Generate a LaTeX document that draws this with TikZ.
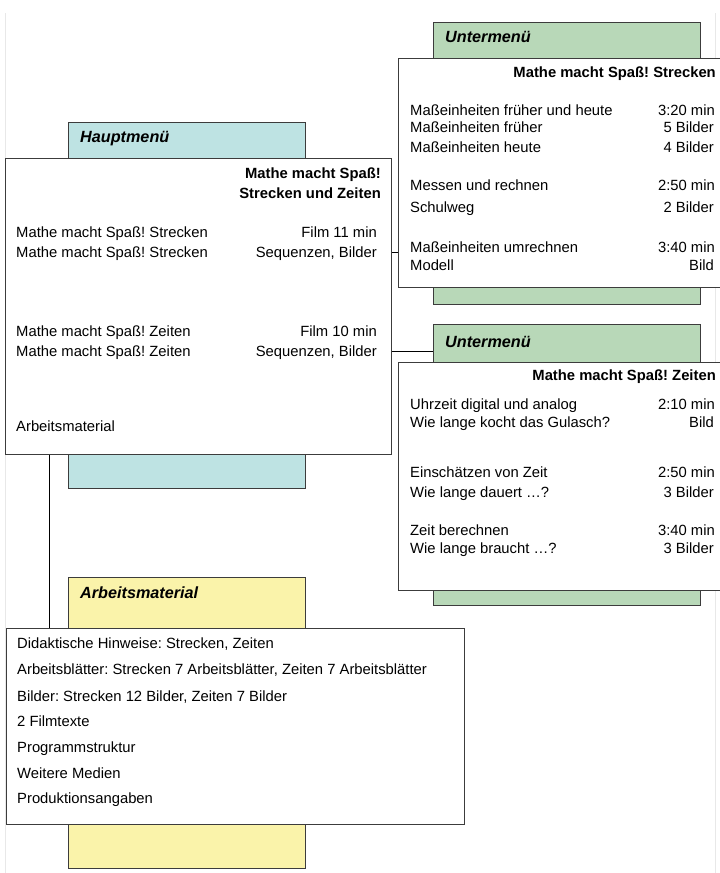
\documentclass[tikz,border=0pt]{standalone}
\usepackage{fontspec}
\setmainfont{Liberation Sans}
\frenchspacing
\definecolor{hmblue}{RGB}{190,227,227}
\definecolor{umgreen}{RGB}{184,216,184}
\definecolor{amyellow}{RGB}{250,243,170}
\definecolor{edge}{RGB}{60,60,60}
\tikzset{
  colbox/.style={draw=edge, line width=1.3pt, inner sep=0pt},
  whitebox/.style={draw=edge, line width=1.1pt, fill=white, inner sep=0pt},
  hdr/.style={anchor=mid west, font=\fontsize{16.2}{18}\selectfont\bfseries\itshape, inner sep=0pt, yshift=-3pt},
  ttl/.style={anchor=mid east, font=\fontsize{14.8}{17}\selectfont\bfseries, inner sep=0pt, yshift=-3pt},
  lt/.style={anchor=mid west, font=\fontsize{14.8}{17}\selectfont, inner sep=0pt, yshift=-3pt},
  rt/.style={anchor=mid east, font=\fontsize{14.8}{17}\selectfont, inner sep=0pt, yshift=-3pt},
  conn/.style={draw=black, line width=1pt},
}
\begin{document}
\begin{tikzpicture}[x=1pt,y=-1pt]
\useasboundingbox (0,0) rectangle (720,873);
\clip (0,0) rectangle (720,873);
\fill[white] (0,0) rectangle (720,873);
% faint page edges
\draw[black!9, line width=1pt] (5.5,13) -- (5.5,873);
\draw[black!9, line width=1pt] (715.5,13) -- (715.5,873);

% coloured back boxes
\node[colbox, fill=hmblue, anchor=north west, minimum width=237pt, minimum height=366pt] (hmc) at (68,122) {};
\node[colbox, fill=umgreen, anchor=north west, minimum width=267pt, minimum height=282pt] (u1c) at (433,22) {};
\node[colbox, fill=umgreen, anchor=north west, minimum width=267pt, minimum height=281pt] (u2c) at (433,324) {};
\node[colbox, fill=amyellow, anchor=north west, minimum width=237pt, minimum height=291pt] (amc) at (68,577) {};

% header labels
\node[hdr] (hmh) at (80,137) {Hauptmenü};
\node[hdr] (u1h) at (445,37) {Untermenü};
\node[hdr] (u2h) at (445,342) {Untermenü};
\node[hdr] (amh) at (80,593) {Arbeitsmaterial};

\coordinate (cA) at (0,252);
\coordinate (cB) at (0,351);
\coordinate (cV) at (49,0);

% white boxes
\node[whitebox, anchor=north west, minimum width=386pt, minimum height=296pt] (hmw) at (5,158) {};
\node[whitebox, anchor=north west, minimum width=326pt, minimum height=229pt] (u1w) at (398,58) {};
\node[whitebox, anchor=north west, minimum width=326pt, minimum height=228pt] (u2w) at (398,362) {};
\node[whitebox, anchor=north west, minimum width=458pt, minimum height=196pt] (amw) at (6,628) {};

% connectors
\draw[conn] (hmw.east |- cA) -- (u1w.west |- cA);
\draw[conn] (hmw.east |- cB) -- (u2c.west |- cB);
\draw[conn] (hmw.south -| cV) -- (amw.north -| cV);

% Hauptmenü text
\node[ttl] (hmt1) at (381,173) {Mathe macht Spaß!};
\node[ttl] (hmt2) at (381,193) {Strecken und Zeiten};
\node[lt] (hm1) at (16,232) {Mathe macht Spaß! Strecken};
\node[lt] (hm2) at (16,252) {Mathe macht Spaß! Strecken};
\node[lt] (hm3) at (16,331) {Mathe macht Spaß! Zeiten};
\node[lt] (hm4) at (16,351) {Mathe macht Spaß! Zeiten};
\node[lt] (hm5) at (16,426) {Arbeitsmaterial};
\node[rt] (hmr1) at (377,232) {Film 11 min};
\node[rt] (hmr2) at (377,252) {Sequenzen, Bilder};
\node[rt] (hmr3) at (377,331) {Film 10 min};
\node[rt] (hmr4) at (377,351) {Sequenzen, Bilder};

% Untermenü 1 text
\node[ttl] (u1t) at (716,72) {Mathe macht Spaß! Strecken};
\node[lt] (u1a) at (410,110) {Maßeinheiten früher und heute};
\node[lt] (u1b) at (410,127) {Maßeinheiten früher};
\node[lt] (u1c2) at (410,147) {Maßeinheiten heute};
\node[lt] (u1d) at (410,185) {Messen und rechnen};
\node[lt] (u1e) at (410,207) {Schulweg};
\node[lt] (u1f) at (410,247) {Maßeinheiten umrechnen};
\node[lt] (u1g) at (410,265) {Modell};
\node[rt] (u1ra) at (715,110) {3:20 min};
\node[rt] (u1rb) at (714,127) {5 Bilder};
\node[rt] (u1rc) at (714,147) {4 Bilder};
\node[rt] (u1rd) at (715,185) {2:50 min};
\node[rt] (u1re) at (714,207) {2 Bilder};
\node[rt] (u1rf) at (715,247) {3:40 min};
\node[rt] (u1rg) at (714,265) {Bild};

% Untermenü 2 text
\node[ttl] (u2t) at (716,375) {Mathe macht Spaß! Zeiten};
\node[lt] (u2a) at (410,404) {Uhrzeit digital und analog};
\node[lt] (u2b) at (410,422) {Wie lange kocht das Gulasch?};
\node[lt] (u2c2) at (410,472) {Einschätzen von Zeit};
\node[lt] (u2d) at (410,492) {Wie lange dauert …?};
\node[lt] (u2e) at (410,530) {Zeit berechnen};
\node[lt] (u2f) at (410,548) {Wie lange braucht …?};
\node[rt] (u2ra) at (715,404) {2:10 min};
\node[rt] (u2rb) at (714,422) {Bild};
\node[rt] (u2rc) at (715,472) {2:50 min};
\node[rt] (u2rd) at (714,492) {3 Bilder};
\node[rt] (u2re) at (715,530) {3:40 min};
\node[rt] (u2rf) at (714,548) {3 Bilder};

% Arbeitsmaterial text
\node[lt] (am1) at (17,643) {Didaktische Hinweise: Strecken, Zeiten};
\node[lt] (am2) at (17,669) {Arbeitsblätter: Strecken 7 Arbeitsblätter, Zeiten 7 Arbeitsblätter};
\node[lt] (am3) at (17,696) {Bilder: Strecken 12 Bilder, Zeiten 7 Bilder};
\node[lt] (am4) at (17,721) {2 Filmtexte};
\node[lt] (am5) at (17,747) {Programmstruktur};
\node[lt] (am6) at (17,773) {Weitere Medien};
\node[lt] (am7) at (17,798) {Produktionsangaben};
\end{tikzpicture}
\end{document}
